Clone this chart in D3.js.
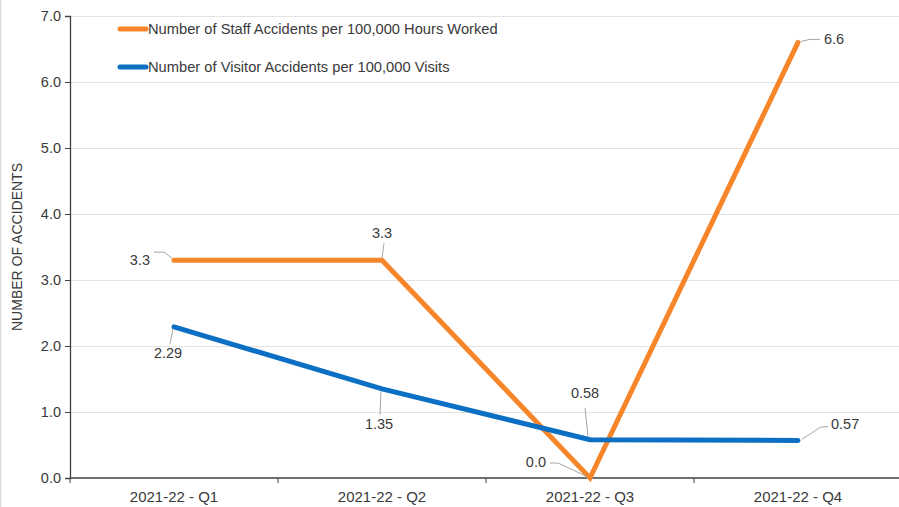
<!DOCTYPE html>
<html>
<head>
<meta charset="utf-8">
<script src="https://cdn.jsdelivr.net/npm/d3@7"></script>
<style>
  html, body { margin: 0; padding: 0; background: #fff; }
  svg { display: block; }
  text { font-family: "Liberation Sans", Arial, sans-serif; fill: #3a3a3a; }
</style>
</head>
<body>
<svg id="chart" width="899" height="507"></svg>
<script>
// Quarterly accident rates
const quarters = ["2021-22 - Q1", "2021-22 - Q2", "2021-22 - Q3", "2021-22 - Q4"];
const staffRates = [3.3, 3.3, 0.0, 6.6];
const visitorRates = [2.29, 1.35, 0.58, 0.57];
const staffLabels = ["3.3", "3.3", "0.0", "6.6"];
const visitorLabels = ["2.29", "1.35", "0.58", "0.57"];
const yTicks = [0, 1, 2, 3, 4, 5, 6, 7];
const seriesNames = [
  "Number of Staff Accidents per 100,000 Hours Worked",
  "Number of Visitor Accidents per 100,000 Visits"
];
const seriesColors = ["#F7862B", "#0B6FC4"];

const svg = d3.select("#chart");
const W = 899, H = 507;
const margin = { left: 70, right: -3, top: 16, bottom: 29 };

const x = d3.scaleBand().domain(quarters).range([margin.left, W - margin.right]);
const y = d3.scaleLinear().domain([0, 7]).range([H - margin.bottom, margin.top]);
const cx = q => x(q) + x.bandwidth() / 2;

// chart frame edge
svg.append("line").attr("x1", 0.5).attr("x2", 0.5).attr("y1", 0).attr("y2", H)
  .attr("stroke", "#d9d9d9").attr("stroke-width", 1.5);

// horizontal gridlines
svg.append("g").selectAll("line").data(yTicks.filter(d => d > 0)).join("line")
  .attr("x1", margin.left).attr("x2", W)
  .attr("y1", d => Math.round(y(d)) + 0.5).attr("y2", d => Math.round(y(d)) + 0.5)
  .attr("stroke", "#e3e3e3").attr("stroke-width", 1.2);

// y axis
const yAxis = svg.append("g").attr("transform", `translate(${margin.left},0)`)
  .call(d3.axisLeft(y).tickValues(yTicks).tickFormat(d3.format(".1f")).tickSize(5).tickPadding(4));
yAxis.select(".domain").attr("stroke", "#404040").attr("stroke-width", 1.3);
yAxis.selectAll(".tick line").attr("stroke", "#404040");
yAxis.selectAll(".tick text").style("font-size", "14.5px").attr("fill", "#3a3a3a")
  .style("font-family", '"Liberation Sans", Arial, sans-serif');

// x axis with ticks between categories
const xAxisG = svg.append("g").attr("transform", `translate(0,${y(0)})`);
xAxisG.append("line").attr("x1", margin.left).attr("x2", W)
  .attr("y1", 0).attr("y2", 0).attr("stroke", "#404040").attr("stroke-width", 1.3);
const bounds = quarters.map(q => x(q)).concat([x(quarters[3]) + x.bandwidth()]);
xAxisG.selectAll("line.sep").data(bounds).join("line").attr("class", "sep")
  .attr("x1", d => d).attr("x2", d => d).attr("y1", 0).attr("y2", 5)
  .attr("stroke", "#404040");
xAxisG.selectAll("text").data(quarters).join("text")
  .attr("x", d => cx(d)).attr("y", 24).attr("text-anchor", "middle")
  .style("font-size", "15px").text(d => d);

// y axis title
svg.append("text")
  .attr("transform", `translate(22,${(y(0) + y(7)) / 2}) rotate(-90)`)
  .attr("text-anchor", "middle")
  .style("font-family", '"Liberation Sans Narrow", "Arial Narrow", sans-serif')
  .style("font-size", "14px")
  .text("NUMBER OF ACCIDENTS");

// series lines
const line = d3.line().x((d, i) => cx(quarters[i])).y(d => y(d));
[staffRates, visitorRates].forEach((vals, s) => {
  svg.append("path").datum(vals).attr("d", line)
    .attr("fill", "none").attr("stroke", seriesColors[s]).attr("stroke-width", 5)
    .attr("stroke-linecap", "round").attr("stroke-linejoin", "miter");
});

// data labels with leader lines (offsets relative to each point)
const labelLayout = [
  // staff
  { s: 0, i: 0, tx: -24, ty: 5, anchor: "end", path: [[-2, -2], [-10, -8], [-20, -8]] },
  { s: 0, i: 1, tx: 0, ty: -22, anchor: "middle", path: [[0, -2], [2, -17]] },
  { s: 0, i: 2, tx: -44, ty: -11, anchor: "end", path: [[-2, -1], [-32, -15], [-40, -15]] },
  { s: 0, i: 3, tx: 26, ty: 2, anchor: "start", path: [[3, -1], [12, -3], [22, -3]] },
  // visitor
  { s: 1, i: 0, tx: -6, ty: 31, anchor: "middle", path: [[-1, 2], [-4, 17]] },
  { s: 1, i: 1, tx: -3, ty: 40, anchor: "middle", path: [[-1, 2], [-2, 26]] },
  { s: 1, i: 2, tx: -5, ty: -42, anchor: "middle", path: [[-2, -3], [-5, -32]] },
  { s: 1, i: 3, tx: 33, ty: -11, anchor: "start", path: [[4, -1], [22, -13], [30, -14]] }
];
const labelG = svg.append("g");
labelLayout.forEach(L => {
  const vals = L.s === 0 ? staffRates : visitorRates;
  const txt = L.s === 0 ? staffLabels : visitorLabels;
  const px = cx(quarters[L.i]), py = y(vals[L.i]);
  labelG.append("path")
    .attr("d", d3.line()(L.path.map(p => [px + p[0], py + p[1]])))
    .attr("fill", "none").attr("stroke", "#a6a6a6").attr("stroke-width", 1);
  labelG.append("text").attr("x", px + L.tx).attr("y", py + L.ty)
    .attr("text-anchor", L.anchor).style("font-size", "14.5px").text(txt[L.i]);
});

// legend
const legend = svg.append("g");
seriesNames.forEach((name, s) => {
  const ly = 29 + s * 38;
  legend.append("line").attr("x1", 120).attr("x2", 146).attr("y1", ly).attr("y2", ly)
    .attr("stroke", seriesColors[s]).attr("stroke-width", 5).attr("stroke-linecap", "round");
  legend.append("text").attr("x", 148).attr("y", ly + 5).style("font-size", "14.7px").text(name);
});
</script>
</body>
</html>
